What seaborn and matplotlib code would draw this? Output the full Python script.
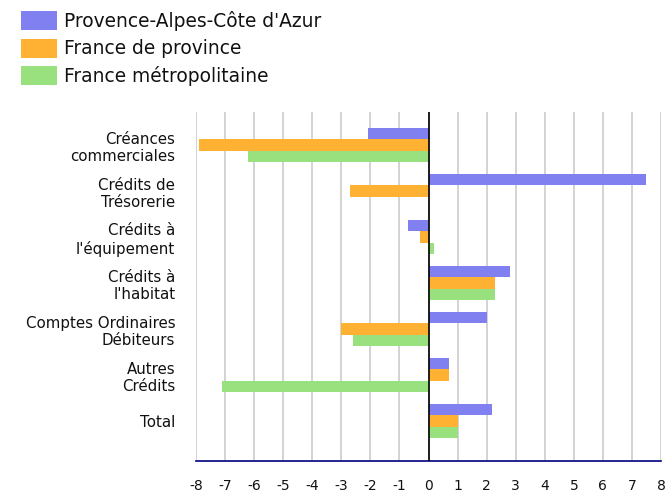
import pandas as pd
import numpy as np
import matplotlib
matplotlib.use("Agg")
import matplotlib.pyplot as plt
import seaborn as sns
from matplotlib.patches import Patch

# données
categories = ["Créances\ncommerciales", "Crédits de\nTrésorerie", "Crédits à\nl'équipement",
              "Crédits à\nl'habitat", "Comptes Ordinaires\nDébiteurs", "Autres\nCrédits", "Total"]
series = ["Provence-Alpes-Côte d'Azur", "France de province", "France métropolitaine"]
paca = [-2.1, 7.5, -0.7, 2.8, 2.0, 0.7, 2.2]
province = [-7.9, -2.7, -0.3, 2.3, -3.0, 0.7, 1.0]
metro = [-6.2, 0.0, 0.2, 2.3, -2.6, -7.1, 1.0]
colors = ["#8080f0", "#ffb133", "#99e07f"]

df = pd.DataFrame({
    "categorie": categories * 3,
    "serie": np.repeat(series, len(categories)),
    "valeur": paca + province + metro,
})

sns.set_style("white")
plt.rcParams["font.family"] = ["DejaVu Sans"]
plt.rcParams["axes.unicode_minus"] = False

fig = plt.figure(figsize=(6.67, 4.98), dpi=100)
ax = fig.add_axes([0.294, 0.074, 0.697, 0.701])

sns.barplot(data=df, y="categorie", x="valeur", hue="serie", orient="h",
            palette=colors, width=0.75, ax=ax, legend=False, saturation=1,
            edgecolor="none", linewidth=0)

ax.set_xlim(-8, 8)
ax.set_ylim(6.87, -0.717)
ax.set_xticks(range(-8, 9))
ax.set_xlabel("")
ax.set_ylabel("")
ax.grid(axis="x", color="#cccccc", lw=1.2)
ax.set_axisbelow(True)
for s in ["top", "right", "left"]:
    ax.spines[s].set_visible(False)
ax.spines["bottom"].set_color("#000080")
ax.spines["bottom"].set_linewidth(1.2)
ax.axvline(0, color="black", lw=1.2, zorder=5)
ax.tick_params(axis="x", length=4, color="#cccccc", width=1.2, pad=9,
               labelsize=10, labelcolor="#111111")
ax.tick_params(axis="y", length=0, pad=15, labelsize=10.8, labelcolor="#111111")
for lab in ax.get_yticklabels():
    lab.set_horizontalalignment("right")
    lab.set_multialignment("right")

handles = [Patch(facecolor=c, edgecolor="none") for c in colors]
fig.legend(handles, series, loc="upper left", bbox_to_anchor=(0.006, 1.012),
           frameon=False, fontsize=13.4, handlelength=1.95, handleheight=1.2,
           handletextpad=0.4, labelspacing=0.42, labelcolor="#111111")

fig.savefig("out.png", dpi=100)
